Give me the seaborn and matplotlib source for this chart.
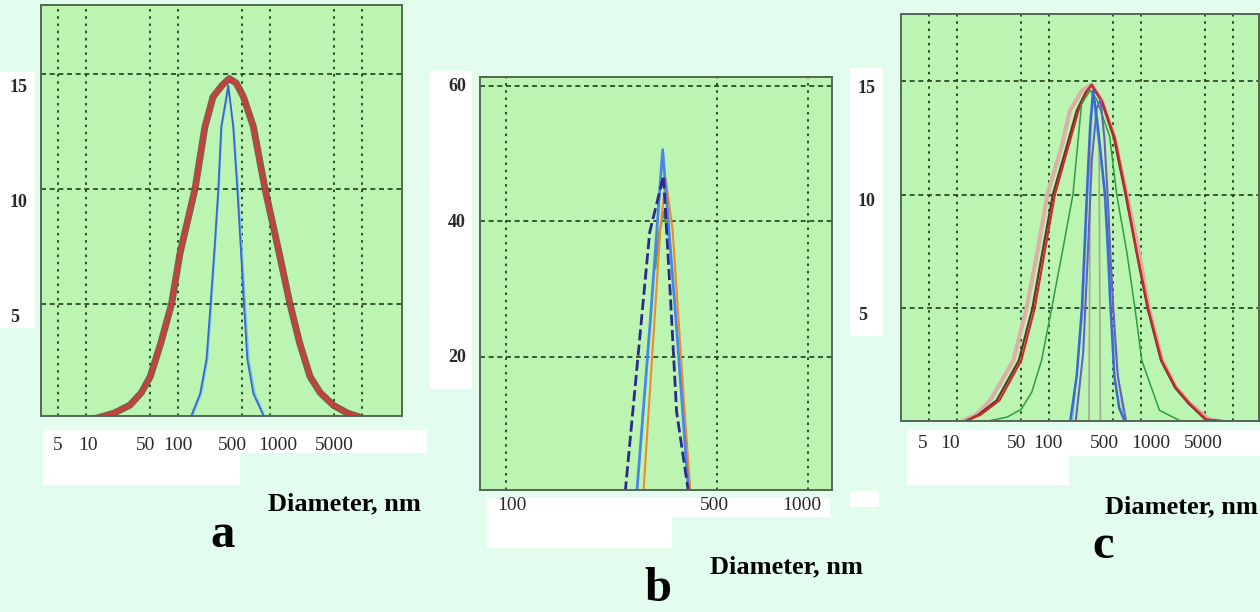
import matplotlib
matplotlib.use("Agg")
import matplotlib.pyplot as plt
import seaborn as sns
from matplotlib.patches import Rectangle
from matplotlib.transforms import blended_transform_factory, offset_copy

sns.set_style("white")
plt.rcParams['font.family'] = ['Liberation Serif', 'DejaVu Serif']

# ---------------- data ----------------
# panel a
a_broad_x = [12, 20, 30, 40, 50, 65, 85, 105, 153, 196, 240, 300, 361, 430, 515, 660, 883,
             1260, 1648, 2100, 2720, 3500, 4870, 7000, 10000]
a_broad_y = [0.0, 0.25, 0.6, 1.15, 1.85, 3.3, 5.0, 7.2, 10.0, 12.7, 14.0, 14.5, 14.8, 14.6, 14.0,
             12.7, 10.0, 7.2, 5.0, 3.3, 1.85, 1.15, 0.6, 0.25, 0.05]
a_blue_x = [135, 174, 204, 226, 250, 274, 295, 352, 398, 441, 480, 521, 567, 660, 883]
a_blue_y = [0.0, 1.1, 2.6, 5.0, 7.5, 10.0, 12.7, 14.5, 12.7, 10.0, 7.5, 5.0, 2.6, 1.1, 0.0]
a_cyan_x = [140, 180, 210, 232, 280, 300, 356, 405, 452, 495, 540, 590, 690, 900]
a_cyan_y = [0.0, 1.1, 2.6, 5.0, 10.0, 12.7, 14.3, 12.7, 10.0, 7.5, 5.0, 2.6, 1.1, 0.0]

# panel b
b_blue_x = [271, 300, 330, 366, 402]
b_blue_y = [0, 25, 50.6, 25, 0]
b_navy_x = [248, 299, 332, 350, 367, 402]
b_navy_y = [0, 38.4, 46.7, 29, 11.9, 0]
b_orange_x = [285, 324, 338, 356, 392, 408]
b_orange_y = [0, 38.7, 46.2, 38.7, 10.7, 0]
b_green_x = [312, 322, 334, 342]
b_green_y = [33, 38.5, 41.5, 38]

# panel c
c_pink_x = [11, 16, 23, 41, 57, 75, 96, 137, 169, 230, 291, 370, 516, 700, 950, 1220, 1700,
            2400, 3400, 5500, 8000]
c_pink_y = [0, 0.3, 0.94, 2.7, 5, 7.5, 10, 12.1, 13.7, 14.6, 14.84, 14.2, 12.5, 10, 7.5, 5, 2.7,
            1.5, 0.8, 0.1, 0]
c_red_x = [12, 18, 29, 50, 70, 90, 116, 162, 209, 255, 291, 380, 520, 693, 900, 1200, 1680,
           2400, 3390, 5130, 9000]
c_red_y = [0, 0.3, 0.94, 2.7, 5, 7.5, 10, 12.1, 13.7, 14.5, 14.84, 14.1, 12.5, 10, 7.5, 5, 2.7,
           1.5, 0.8, 0.1, 0]
c_brown_x = [12, 17, 27, 47, 66, 85, 110, 155, 200, 250, 291, 375, 510, 680, 890, 1180, 1650,
             2350, 3300, 5000, 8000]
c_brown_y = [0, 0.3, 0.94, 2.7, 5, 7.5, 10, 12.1, 13.7, 14.5, 14.84, 14.1, 12.5, 10, 7.5, 5, 2.7,
             1.5, 0.8, 0.1, 0]
c_green_x = [20, 35, 50, 65, 83, 107, 140, 182, 226, 280, 330, 457, 545, 700, 861, 1020, 1590,
             2640, 4000]
c_green_y = [0, 0.2, 0.55, 1.3, 2.7, 5.0, 7.5, 10.0, 14.0, 14.6, 14.2, 12.56, 10.0, 7.5, 5.0,
             2.7, 0.5, 0.05, 0]
c_blue_x = [170, 200, 228, 258, 280, 302, 340, 407, 440, 468, 514, 580, 670]
c_blue_y = [0, 2.0, 5.0, 10.0, 13.0, 14.6, 13.0, 10.0, 7.5, 5.0, 2.0, 0.6, 0]
c_navy_x = [195, 235, 262, 292, 330, 363, 400, 440, 470, 500, 560, 690]
c_navy_y = [0, 3.0, 7.0, 11.5, 13.8, 14.2, 12.5, 9.5, 7.0, 5.0, 2.0, 0]
c_grey_x = [272, 282, 300, 350, 362]
c_grey_y = [0, 12.5, 14.6, 12.5, 0]
c_cyan_x = [180, 235, 265, 300, 400, 460, 650]
c_cyan_y = [0, 5, 10, 14.3, 10, 5, 0]

# ticks / labels
ac_xticks = [5, 10, 50, 100, 500, 1000, 5000]
ac_xlabels = ["5", "10", "50", "100", "500", "1000", "5000"]
ac_xgrid = [5, 10, 50, 100, 500, 1000, 5000, 10000]
ac_yticks = [5, 10, 15]
ac_ylabels = ["5", "10", "15"]
ac_yminor = [2.5, 7.5, 12.5]
b_xticks = [100, 500, 1000]
b_xlabels = ["100", "500", "1000"]
b_yticks = [20, 40, 60]
b_ylabels = ["20", "40", "60"]
b_yminor = [10, 30, 50]
xlabel_text = "Diameter, nm"
panel_letters = ["a", "b", "c"]

# ---------------- layout ----------------
W, H = 1260, 612
BG = "#E2FCEE"
FACE = "#BCF4B2"
GRID = "#1E3E1E"

fig = plt.figure(figsize=(W / 100, H / 100), dpi=100, facecolor=BG)


def wbox(x0, y0, x1, y1):
    fig.add_artist(Rectangle((x0 / W, 1 - y1 / H), (x1 - x0) / W, (y1 - y0) / H,
                             transform=fig.transFigure, fc="white", ec="none", zorder=-1))


def make_ax(l, t, r, b, xlim, ylim, xgrid, yticks, yminor):
    ax = fig.add_axes([l / W, 1 - b / H, (r - l) / W, (b - t) / H])
    ax.set_facecolor(FACE)
    ax.set_xscale("log")
    ax.set_xlim(*xlim)
    ax.set_ylim(*ylim)
    ax.set_xticks(xgrid)
    ax.set_yticks(yticks)
    ax.set_yticks(yminor, minor=True)
    ax.tick_params(labelbottom=False, labelleft=False)
    ax.tick_params(which="both", direction="in", color="#4a5a4a")
    ax.tick_params(which="major", length=0)
    ax.tick_params(which="minor", length=3, width=0.8)
    ax.xaxis.grid(True, which="major", ls=(0, (1.4, 2.6)), color=GRID, lw=1.3)
    ax.yaxis.grid(True, which="major", ls=(0, (3, 2.2)), color=GRID, lw=1.2)
    for s in ax.spines.values():
        s.set_color("#556655")
        s.set_linewidth(1.4)
    return ax


def ylabels(ax, ticks, labels, xpix, dy):
    tr = offset_copy(blended_transform_factory(fig.transFigure, ax.transData),
                     fig=fig, x=0, y=-dy, units="dots")
    for t, s in zip(ticks, labels):
        ax.text(xpix / W, t, s, transform=tr, ha="left", va="center",
                fontsize=13, fontweight="bold", color="#2a2a2a")


def xlabels(ax, ticks, labels, ypix, dxs):
    for t, s, dx in zip(ticks, labels, dxs):
        tr = offset_copy(blended_transform_factory(ax.transData, fig.transFigure),
                         fig=fig, x=dx, y=0, units="dots")
        ax.text(t, 1 - ypix / H, s, transform=tr, ha="center", va="center",
                fontsize=14, color="#2a2a2a")


def line(ax, x, y, color, lw, **kw):
    sns.lineplot(x=x, y=y, ax=ax, color=color, lw=lw, estimator=None, sort=False, **kw)


# white label boxes
wbox(0, 72, 35, 328)
wbox(43, 430, 427, 453)
wbox(43, 453, 240, 485)
wbox(430, 71, 472, 389)
wbox(487, 498, 830, 517)
wbox(487, 517, 672, 548)
wbox(850, 68, 883, 336)
wbox(907, 430, 1260, 456)
wbox(907, 456, 1069, 485)
wbox(850, 491, 879, 507)

# ---- panel a ----
ax_a = make_ax(41, 5, 402, 416, (3.24, 27200), (0.13, 18.0), ac_xgrid, ac_yticks, ac_yminor)
line(ax_a, a_cyan_x, a_cyan_y, "#70c8ea", 1.0)
line(ax_a, a_blue_x, a_blue_y, "#3a64d0", 1.3)
line(ax_a, a_broad_x, a_broad_y, "#7a5040", 5.0, alpha=0.9)
line(ax_a, a_broad_x, a_broad_y, "#d63a3a", 2.2)
ylabels(ax_a, ac_yticks, ac_ylabels, 10, 14)
xlabels(ax_a, ac_xticks, ac_xlabels, 446, [-1, 2, -5, 0, -10, 8, 0])

# ---- panel b ----
ax_b = make_ax(480, 77, 832, 490, (82, 1200), (0.37, 61.3), b_xticks, b_yticks, b_yminor)
line(ax_b, b_green_x, b_green_y, "#5aa03a", 1.5)
line(ax_b, b_orange_x, b_orange_y, "#f08a30", 1.5)
line(ax_b, b_blue_x, b_blue_y, "#4a86e8", 2.0)
line(ax_b, b_navy_x, b_navy_y, "#2c2a8c", 2.0, dashes=(4, 1.5))
ylabels(ax_b, b_yticks, b_ylabels, 448, 1)
xlabels(ax_b, b_xticks, b_xlabels, 505, [6, -3, -6])

# ---- panel c ----
ax_c = make_ax(901, 14, 1259, 421, (2.46, 19200), (0.03, 17.96), ac_xgrid, ac_yticks, ac_yminor)
line(ax_c, c_pink_x, c_pink_y, "#dcb0a8", 3.0)
line(ax_c, c_brown_x, c_brown_y, "#5a3a2a", 1.6)
line(ax_c, c_red_x, c_red_y, "#cc2a2a", 1.5)
line(ax_c, c_green_x, c_green_y, "#2e9e3e", 1.1)
line(ax_c, c_cyan_x, c_cyan_y, "#70c0e0", 1.0)
line(ax_c, c_grey_x, c_grey_y, "#a8a890", 1.2)
line(ax_c, c_navy_x, c_navy_y, "#6a60c0", 1.5)
line(ax_c, c_blue_x, c_blue_y, "#3a6ad0", 1.8)
ylabels(ax_c, ac_yticks, ac_ylabels, 858, 7)
xlabels(ax_c, ac_xticks, ac_xlabels, 443, [-7, -7, -5, -1, -9, 10, -2])

for ax in (ax_a, ax_b, ax_c):
    ax.set_xlabel("")
    ax.set_ylabel("")

# axis titles and panel letters
for (x, y), ha in zip([(268, 510), (710, 573), (1258, 513)], ["left", "left", "right"]):
    fig.text(x / W, 1 - y / H, xlabel_text, ha=ha, va="baseline",
             fontsize=19, fontweight="bold", color="black")
for (x, y), s in zip([(223, 547), (658, 601), (1103, 558)], panel_letters):
    fig.text(x / W, 1 - y / H, s, ha="center", va="baseline",
             fontsize=35, fontweight="bold", color="black")

fig.savefig("out.png", dpi=100, facecolor=BG)
